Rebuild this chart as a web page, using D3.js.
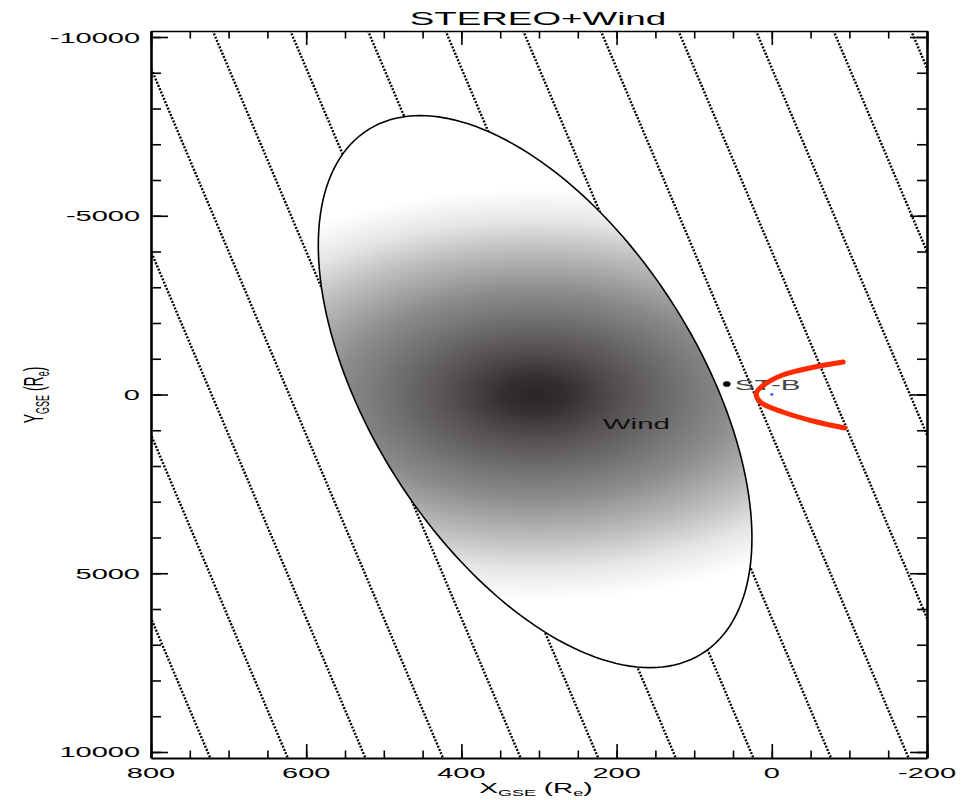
<!DOCTYPE html>
<html>
<head>
<meta charset="utf-8">
<script src="https://cdn.jsdelivr.net/npm/d3@7"></script>
<style>
  body { margin: 0; background: #fff; }
  text { font-family: "Liberation Sans", Arial, Helvetica, sans-serif; }
</style>
</head>
<body>
<svg id="chart" width="977" height="800"></svg>
<script>
// axis ticks
const xTickValues = [800, 600, 400, 200, 0, -200];
const xTickLabels = ["800", "600", "400", "200", "0", "-200"];
const yTickValues = [-10000, -5000, 0, 5000, 10000];
const yTickLabels = ["-10000", "-5000", "0", "5000", "10000"];

// dotted lines, X where each one crosses Y=-10000 and Y=+10000
const lineXAtTop = [1117, 1017, 917, 817, 717, 617, 517, 417, 317, 217, 117, 17, -83, -183];
const lineXAtBottom = [727, 627, 527, 427, 327, 227, 127, 27, -73, -173, -273, -373, -473, -573];

// red curve (bow shock)
const shockY = [-909, -742, -546, -300, -40, 210, 489, 769, 937];
const shockX = [-92, -49, -14, 8, 20, 15, -14, -58, -94];

// shaded ellipse (Wind)
const ellipseCenter = [305, -80];
const ellipseTopHalf = [148, -7720];   // centre -> topmost point
const ellipseSideHalf = [-237, 0];     // conjugate half diameter
const shadeCenter = [305, 0];
const shadeRadius = [500, 5750];
const shadeStopPos = [0, 0.08, 0.22, 0.5, 0.7, 0.85, 1];
const shadeStopCol = ["#2b2526", "#332e2f", "#555152", "#8c8b8b", "#bdbdbd", "#e6e6e6", "#ffffff"];

// spacecraft
const stb = {x: 58, y: -294, label: "ST-B"};
const windLabel = {x: 218, y: 965, label: "Wind"};
const earth = {x: 0, y: 0};

const svg = d3.select("#chart");
const pLeft = 151, pRight = 927, pTop = 31, pBottom = 758;
const x = d3.scaleLinear([800, -200], [pLeft, pRight]);
const y = d3.scaleLinear([-10168, 10168], [pTop, pBottom]);
const SX = 2; // the whole picture is stretched sideways

function wideText(g, px, py, str, size, anchor) {
  return g.append("text")
    .attr("transform", `translate(${px},${py}) scale(${SX},1)`)
    .attr("text-anchor", anchor || "start")
    .attr("font-size", size)
    .attr("fill", "#000")
    .text(str);
}

const defs = svg.append("defs");
defs.append("clipPath").attr("id", "plotClip")
  .append("rect").attr("x", pLeft).attr("y", pTop)
  .attr("width", pRight - pLeft).attr("height", pBottom - pTop);

const gcx = x(shadeCenter[0]), gcy = y(shadeCenter[1]);
const grx = Math.abs(x(shadeCenter[0] + shadeRadius[0]) - gcx);
const gry = Math.abs(y(shadeCenter[1] + shadeRadius[1]) - gcy);
const grad = defs.append("radialGradient").attr("id", "shade")
  .attr("gradientUnits", "userSpaceOnUse")
  .attr("cx", gcx).attr("cy", gcy).attr("r", grx)
  .attr("fx", gcx).attr("fy", gcy)
  .attr("gradientTransform", `translate(${gcx},${gcy}) scale(1,${gry / grx}) translate(${-gcx},${-gcy})`);
grad.selectAll("stop").data(shadeStopPos).join("stop")
  .attr("offset", d => d)
  .attr("stop-color", (d, i) => shadeStopCol[i]);

const plot = svg.append("g").attr("clip-path", "url(#plotClip)");

// dotted lines
const dotted = lineXAtTop.map((xt, i) => {
  const xb = lineXAtBottom[i];
  const k = (xb - xt) / 20000;
  return [[xt + k * (-11000 + 10000), -11000], [xt + k * (11000 + 10000), 11000]];
});
plot.selectAll("line.dot").data(dotted).join("line")
  .attr("class", "dot")
  .attr("x1", d => x(d[0][0])).attr("y1", d => y(d[0][1]))
  .attr("x2", d => x(d[1][0])).attr("y2", d => y(d[1][1]))
  .attr("stroke", "#000").attr("stroke-width", 2.4)
  .attr("stroke-dasharray", "2 1.5");

// ellipse
const ts = d3.range(0, 361, 2).map(a => a * Math.PI / 180);
const ellipsePts = ts.map(t => [
  ellipseCenter[0] + Math.cos(t) * ellipseTopHalf[0] + Math.sin(t) * ellipseSideHalf[0],
  ellipseCenter[1] + Math.cos(t) * ellipseTopHalf[1] + Math.sin(t) * ellipseSideHalf[1]
]);
const ellipseLine = d3.line().x(d => x(d[0])).y(d => y(d[1])).curve(d3.curveLinearClosed);
plot.append("path").attr("d", ellipseLine(ellipsePts))
  .attr("fill", "url(#shade)")
  .attr("stroke", "#000").attr("stroke-width", 1.6);

wideText(plot, x(windLabel.x), y(windLabel.y), windLabel.label, 14.8).attr("fill", "#111");

// ST-B
plot.append("ellipse").attr("cx", x(stb.x)).attr("cy", y(stb.y))
  .attr("rx", 3.8).attr("ry", 2.8).attr("fill", "#000");
wideText(plot, x(stb.x) + 8, y(stb.y) + 6, stb.label, 14.8).attr("fill", "#444");

// red curve
const shockLine = d3.line().x(d => x(d[0])).y(d => y(d[1])).curve(d3.curveCatmullRom);
plot.append("path").attr("d", shockLine(shockY.map((v, i) => [shockX[i], v])))
  .attr("fill", "none").attr("stroke", "#ff2a00")
  .attr("stroke-width", 5).attr("stroke-linejoin", "round").attr("stroke-linecap", "round");

plot.append("rect").attr("x", x(earth.x) - 1.5).attr("y", y(earth.y) - 1)
  .attr("width", 3).attr("height", 2).attr("fill", "#2040ff");

// axes
const xMinor = d3.range(-200, 801, 50);
const yMinor = d3.range(-10000, 10001, 1000);
function axis(gen, pos, major, minor, majLen, minLen, sw) {
  const g = svg.append("g").attr("transform", pos);
  g.call(gen.tickValues(major).tickSizeInner(-majLen).tickSizeOuter(0).tickFormat(""));
  const gm = svg.append("g").attr("transform", pos);
  gm.call(gen.tickValues(minor).tickSizeInner(-minLen).tickSizeOuter(0).tickFormat(""));
  gm.select(".domain").remove();
  [g, gm].forEach(s => {
    s.selectAll("line").attr("stroke", "#000").attr("stroke-width", 1.6);
    s.selectAll(".domain").attr("stroke", "#000").attr("stroke-width", sw);
  });
}
axis(d3.axisBottom(x), `translate(0,${pBottom})`, xTickValues, xMinor, 14, 7.5, 2);
axis(d3.axisTop(x), `translate(0,${pTop})`, xTickValues, xMinor, 14, 7.5, 1.6);
axis(d3.axisLeft(y), `translate(${pLeft},0)`, yTickValues, yMinor, 17, 10, 2.6);
axis(d3.axisRight(y), `translate(${pRight},0)`, yTickValues, yMinor, 17, 10, 2.6);

// tick labels
xTickValues.forEach((v, i) => wideText(svg, x(v), 778, xTickLabels[i], 14.5, "middle"));
yTickValues.forEach((v, i) => wideText(svg, 140, y(v) + 5.5, yTickLabels[i], 14.5, "end"));

// title
wideText(svg, 538, 25, "STEREO+Wind", 18.4, "middle");

// axis titles
const xt = wideText(svg, 536, 793, "X", 14, "middle");
xt.append("tspan").attr("font-size", 9).attr("dy", 3).text("GSE");
xt.append("tspan").attr("dy", -3).text(" (R");
xt.append("tspan").attr("font-size", 9).attr("dy", 3).text("e");
xt.append("tspan").attr("dy", -3).text(")");

const yt = svg.append("text")
  .attr("transform", `translate(43,395) scale(${SX},1) rotate(-90)`)
  .attr("text-anchor", "middle").attr("font-size", 14).text("Y");
yt.append("tspan").attr("font-size", 9).attr("dy", 3).text("GSE");
yt.append("tspan").attr("dy", -3).text(" (R");
yt.append("tspan").attr("font-size", 9).attr("dy", 3).text("e");
yt.append("tspan").attr("dy", -3).text(")");
</script>
</body>
</html>
